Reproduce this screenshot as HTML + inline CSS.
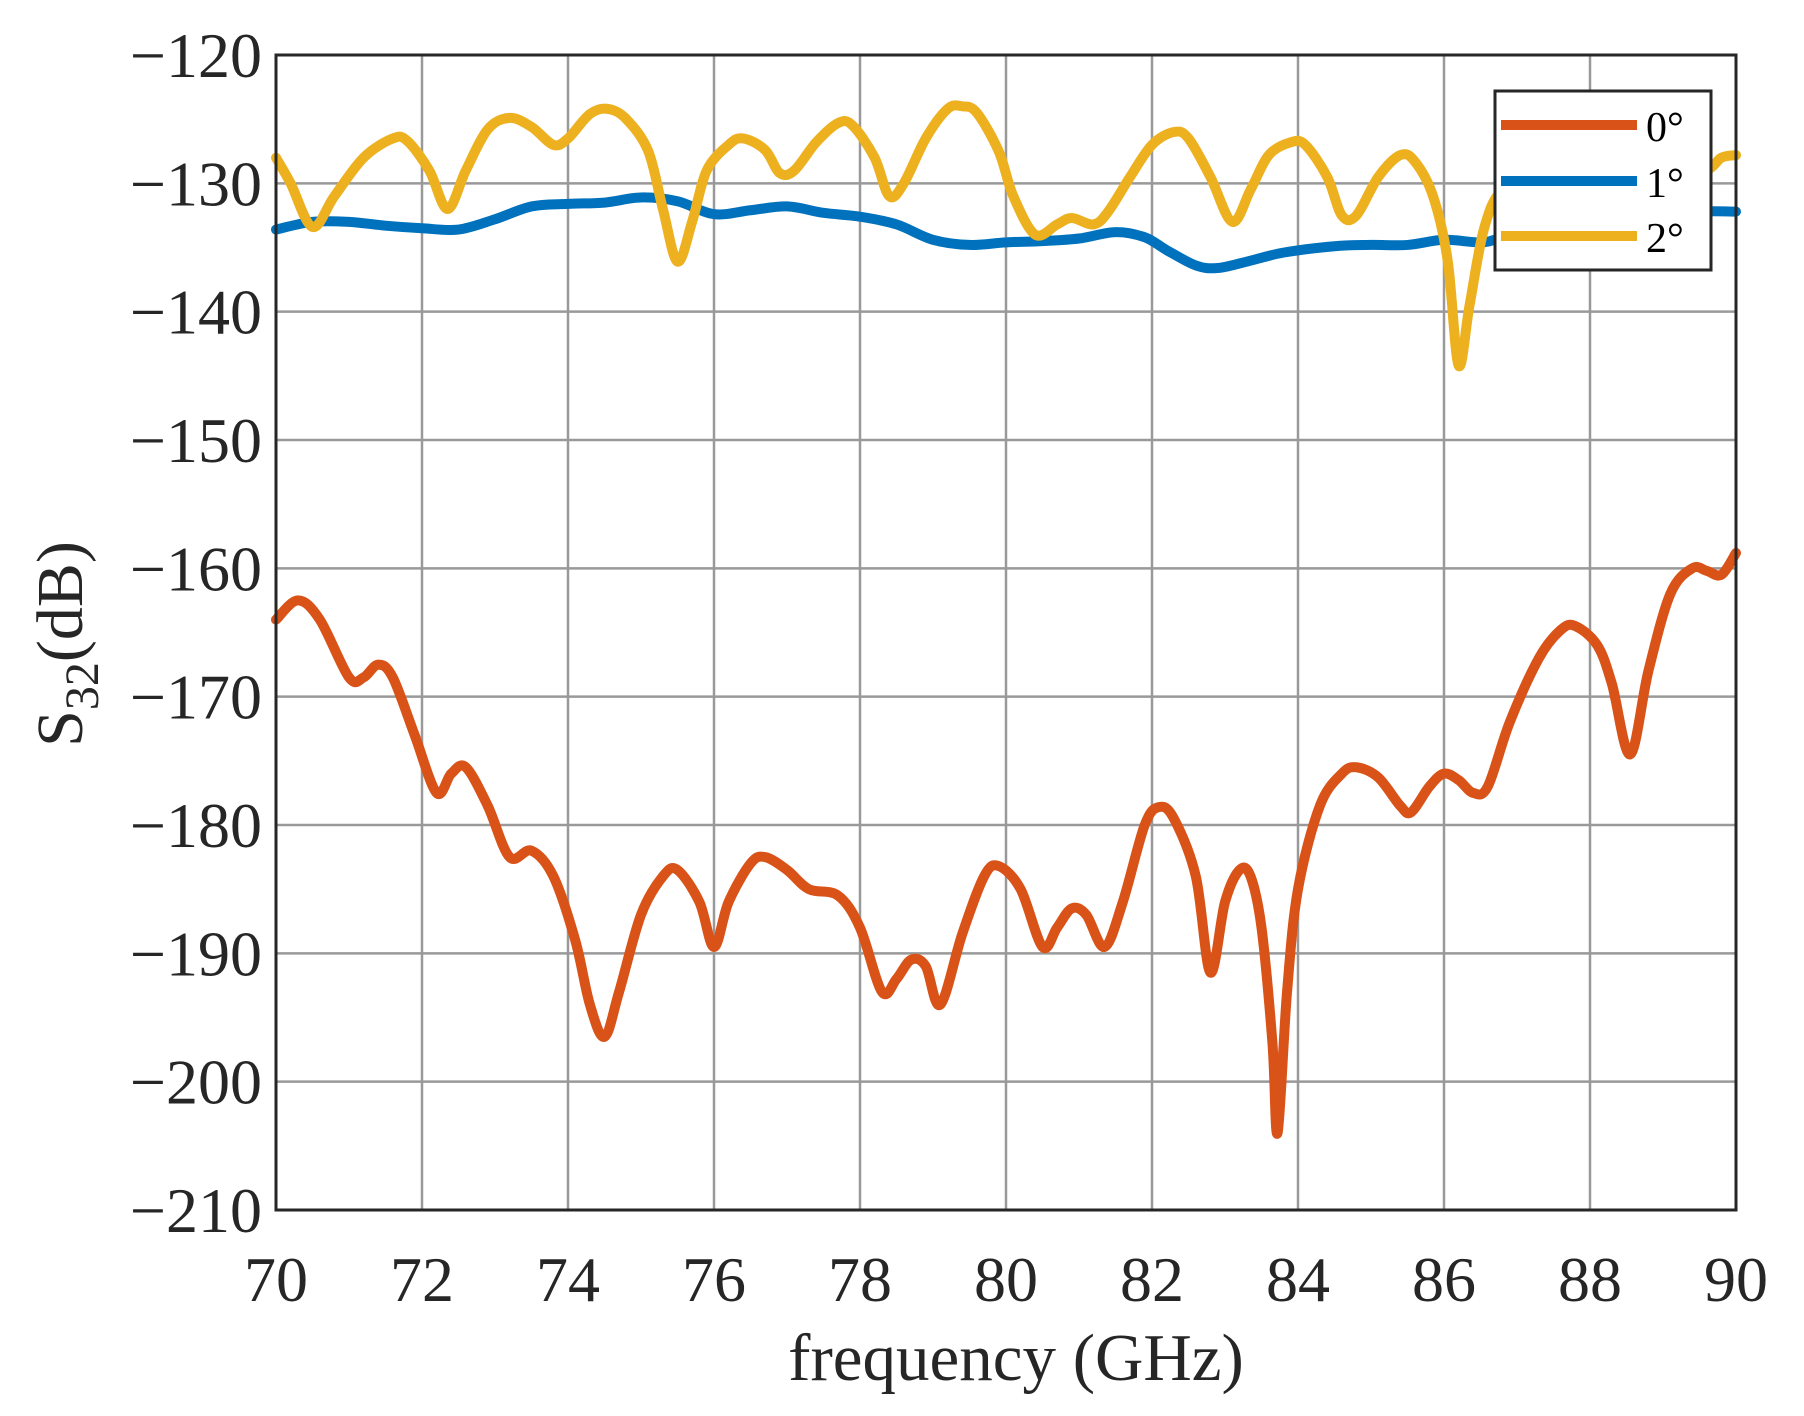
<!DOCTYPE html>
<html><head><meta charset="utf-8"><style>
body{margin:0;background:#fff}
svg text{font-family:"Liberation Serif",serif;fill:#262626}
</style></head><body>
<svg id="s" width="1804" height="1411" xmlns="http://www.w3.org/2000/svg">
<rect width="1804" height="1411" fill="#fff"/>
<g id="grid" stroke="#999" stroke-width="2.5"></g>
<g id="curves" fill="none" stroke-width="10" stroke-linejoin="round" stroke-linecap="round"></g>
<rect x="276" y="55" width="1460" height="1155" fill="none" stroke="#262626" stroke-width="3"/>
<g id="ticks" font-size="64"></g>
<text x="1016" y="1380" font-size="67" text-anchor="middle">frequency (GHz)</text>
<text transform="translate(82,644) rotate(-90)" font-size="66" text-anchor="middle">S<tspan font-size="48" dy="16">32</tspan><tspan dy="-16">(dB)</tspan></text>
<rect x="1495" y="91" width="216" height="179" fill="#fff" stroke="#262626" stroke-width="3"/>
<line x1="1501" y1="125" x2="1637" y2="125" stroke="#D95319" stroke-width="10"/>
<line x1="1501" y1="181" x2="1637" y2="181" stroke="#0072BD" stroke-width="10"/>
<line x1="1501" y1="236" x2="1637" y2="236" stroke="#EDB120" stroke-width="10"/>
<text x="1646" y="141" font-size="42" style="fill:#000">0°</text>
<text x="1646" y="197" font-size="42" style="fill:#000">1°</text>
<text x="1646" y="252" font-size="42" style="fill:#000">2°</text>
</svg>
<script>
const L=276,R=1736,T=55,B=1210;
const X=f=>L+(f-70)*(R-L)/20, Y=d=>T+(-120-d)*(B-T)/90;
const ns="http://www.w3.org/2000/svg";
const g=document.getElementById('grid'),tk=document.getElementById('ticks');
function el(p,n,a,t){const e=document.createElementNS(ns,n);for(const k in a)e.setAttribute(k,a[k]);if(t)e.textContent=t;p.appendChild(e);return e;}
for(let f=72;f<90;f+=2)el(g,'line',{x1:X(f),x2:X(f),y1:T,y2:B});
for(let d=-130;d>-210;d-=10)el(g,'line',{x1:L,x2:R,y1:Y(d),y2:Y(d)});
for(let f=70;f<=90;f+=2)el(tk,'text',{x:X(f),y:1301,'text-anchor':'middle'},String(f));
for(let d=-120;d>=-210;d-=10)el(tk,'text',{x:262,y:Y(d)+22,'text-anchor':'end'},'\u2212'+(-d));
function path(a){const p=[];for(let i=0;i<a.length;i+=2)p.push([X(a[i]),Y(a[i+1])]);
let s='M'+p[0][0]+','+p[0][1];
for(let i=0;i<p.length-1;i++){const p0=p[Math.max(0,i-1)],p1=p[i],p2=p[i+1],p3=p[Math.min(p.length-1,i+2)];
s+=' C'+(p1[0]+(p2[0]-p0[0])/6)+','+(p1[1]+(p2[1]-p0[1])/6)+' '+(p2[0]-(p3[0]-p1[0])/6)+','+(p2[1]-(p3[1]-p1[1])/6)+' '+p2[0]+','+p2[1];}
return s;}
const O=[70,-164,70.3,-162.5,70.6,-164,71,-168.5,71.2,-168.5,71.4,-167.5,71.6,-168.5,71.9,-173,72.2,-177.5,72.4,-176,72.6,-175.5,72.9,-178.5,73.2,-182.5,73.5,-182,73.8,-184,74.1,-189,74.3,-194,74.5,-196.5,74.7,-193,75,-187,75.3,-184,75.5,-183.5,75.8,-186,76,-189.5,76.2,-186,76.5,-183,76.7,-182.5,77,-183.5,77.3,-185,77.7,-185.5,78,-188,78.3,-193,78.5,-192,78.7,-190.5,78.9,-191,79.1,-194,79.4,-188.5,79.7,-184,79.9,-183.2,80.2,-185,80.5,-189.5,80.7,-188,80.9,-186.5,81.1,-187,81.35,-189.5,81.6,-186,81.9,-180,82.1,-178.6,82.3,-179.5,82.6,-184,82.8,-191.5,83,-186,83.2,-183.5,83.35,-184,83.5,-188,83.65,-197,83.72,-204,83.85,-193,84,-185,84.3,-178.5,84.6,-176,84.8,-175.5,85.1,-176.3,85.4,-178.5,85.55,-179,85.8,-177,86,-176,86.2,-176.5,86.4,-177.5,86.6,-177,86.9,-172,87.3,-167,87.6,-164.8,87.8,-164.5,88.1,-166,88.3,-169,88.55,-174.5,88.8,-168,89.1,-162,89.4,-160,89.6,-160.2,89.8,-160.5,90,-158.8];
const Bl=[70,-133.6,70.5,-133,71,-133,71.5,-133.3,72,-133.5,72.5,-133.6,73,-132.8,73.5,-131.8,74,-131.6,74.5,-131.5,75,-131.1,75.5,-131.4,76,-132.4,76.5,-132.1,77,-131.8,77.5,-132.3,78,-132.6,78.5,-133.2,79,-134.4,79.5,-134.8,80,-134.6,80.5,-134.5,81,-134.3,81.5,-133.8,81.9,-134.2,82.2,-135.2,82.6,-136.4,82.9,-136.6,83.3,-136.1,83.8,-135.4,84.5,-134.9,85,-134.8,85.5,-134.8,86,-134.4,86.5,-134.6,86.8,-134.2,87.3,-133.2,87.8,-132.8,88.3,-132.6,89,-132.5,89.5,-132.2,90,-132.2];
const Yl=[70,-128,70.2,-130,70.5,-133.4,70.8,-131,71.2,-128,71.6,-126.5,71.8,-126.7,72.1,-129,72.35,-132,72.6,-129,72.9,-125.8,73.2,-124.9,73.5,-125.6,73.8,-127,74,-126.5,74.3,-124.6,74.55,-124.2,74.8,-125,75.1,-127.5,75.3,-132,75.5,-136.1,75.7,-133,75.9,-129,76.2,-127,76.4,-126.5,76.7,-127.4,76.9,-129.2,77.1,-129,77.4,-126.8,77.7,-125.3,77.9,-125.5,78.2,-128,78.4,-131,78.6,-130,78.9,-126.5,79.2,-124.2,79.4,-124,79.6,-124.5,79.9,-127.5,80.1,-131,80.4,-134,80.7,-133.2,80.9,-132.7,81.2,-133.2,81.4,-132.2,81.7,-129.5,82,-127,82.3,-126,82.5,-126.5,82.8,-129.5,83.1,-133,83.35,-130.5,83.6,-127.8,83.9,-126.8,84.1,-127,84.4,-129.5,84.6,-132.5,84.8,-132.5,85.1,-129.5,85.4,-127.8,85.6,-128.3,85.85,-131,86.05,-136,86.2,-144.2,86.35,-139.5,86.55,-133.5,86.8,-130.5,87.3,-129.5,88,-130,89,-130.5,89.6,-129,89.8,-128,90,-127.8];
const c=document.getElementById('curves');
el(c,'path',{d:path(O),stroke:'#D95319'});
el(c,'path',{d:path(Bl),stroke:'#0072BD'});
el(c,'path',{d:path(Yl),stroke:'#EDB120'});
</script>
</body></html>
